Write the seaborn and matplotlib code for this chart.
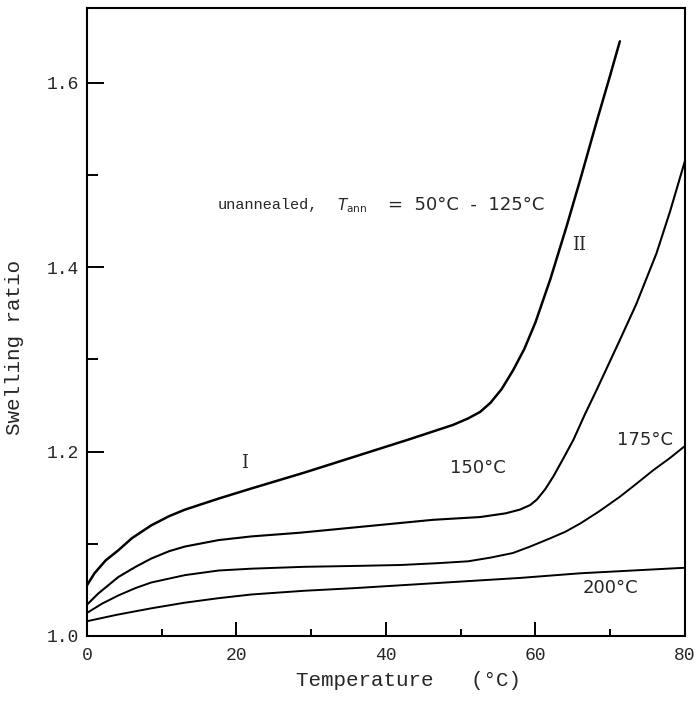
import matplotlib
matplotlib.use('Agg')
import matplotlib.pyplot as plt
import seaborn as sns
from matplotlib.ticker import MultipleLocator, FormatStrFormatter

sns.set_style('ticks', {'xtick.direction': 'in', 'ytick.direction': 'in'})
plt.rcParams['font.family'] = ['Liberation Mono', 'DejaVu Sans']
plt.rcParams['xtick.major.size'] = 10
plt.rcParams['xtick.minor.size'] = 5
plt.rcParams['ytick.major.size'] = 12
plt.rcParams['ytick.minor.size'] = 8

# curve I -> II (unannealed, T_ann = 50-125 C)
x_top = [0, 1, 2.5, 4.2, 6, 8.6, 11, 13.1, 17.6, 22, 29, 36, 43, 49, 51, 52.6,
         54, 55.5, 57, 58.5, 60, 62, 64.2, 66, 68.2, 70, 71.3]
y_top = [1.055, 1.068, 1.082, 1.093, 1.106, 1.120, 1.130, 1.137, 1.149, 1.160,
         1.177, 1.195, 1.213, 1.229, 1.236, 1.243, 1.253, 1.268, 1.288, 1.311,
         1.340, 1.387, 1.445, 1.495, 1.558, 1.608, 1.645]

# annealed at 150 C
x_150 = [0, 1.5, 4.2, 6.5, 8.6, 11, 13.1, 17.6, 22, 28.5, 37.4, 46.3, 52.6, 56,
         57.9, 59.3, 60.2, 61.3, 62.4, 63.7, 65.1, 66.6, 68.2, 71.3, 73.5, 76.2, 78, 80]
y_150 = [1.034, 1.046, 1.064, 1.075, 1.084, 1.092, 1.097, 1.104, 1.108, 1.112,
         1.119, 1.126, 1.129, 1.133, 1.137, 1.142, 1.148, 1.159, 1.173, 1.192,
         1.213, 1.240, 1.267, 1.321, 1.360, 1.415, 1.460, 1.515]

# annealed at 175 C
x_175 = [0, 2, 4.2, 6.5, 8.6, 13.1, 17.6, 22, 29, 36, 42, 47, 51, 54, 57, 59.3,
         62, 64, 66, 68.5, 71.3, 73.5, 75.8, 78, 80]
y_175 = [1.025, 1.035, 1.044, 1.052, 1.058, 1.066, 1.071, 1.073, 1.075, 1.076,
         1.077, 1.079, 1.081, 1.085, 1.090, 1.097, 1.106, 1.113, 1.122, 1.135,
         1.151, 1.165, 1.180, 1.193, 1.206]

# annealed at 200 C
x_200 = [0, 4, 8.6, 13, 17.6, 22, 29, 36, 42, 50, 58, 66, 73, 80]
y_200 = [1.016, 1.023, 1.030, 1.036, 1.041, 1.045, 1.049, 1.052, 1.055, 1.059,
         1.063, 1.068, 1.071, 1.074]

fig = plt.figure(figsize=(6.96, 7.2), dpi=100)
ax = fig.add_axes([0.125, 0.1167, 0.859, 0.872])

for xs, ys, lw in [(x_top, y_top, 1.8), (x_150, y_150, 1.5),
                   (x_175, y_175, 1.4), (x_200, y_200, 1.4)]:
    sns.lineplot(x=xs, y=ys, ax=ax, color='black', linewidth=lw, sort=False)

ax.set_xlim(0, 80)
ax.set_ylim(1.0, 1.681)
ax.xaxis.set_major_locator(MultipleLocator(20))
ax.xaxis.set_minor_locator(MultipleLocator(10))
ax.yaxis.set_major_locator(MultipleLocator(0.2))
ax.yaxis.set_minor_locator(MultipleLocator(0.1))
ax.xaxis.set_major_formatter(FormatStrFormatter('%d'))
ax.yaxis.set_major_formatter(FormatStrFormatter('%.1f'))

ax.tick_params(axis='x', which='major', labelsize=13, pad=8)
ax.tick_params(axis='y', which='major', labelsize=13, pad=6)
ax.tick_params(which='both', width=1.4, color='black')

for s in ax.spines.values():
    s.set_linewidth(1.5)
    s.set_color('black')

ax.set_xlabel('Temperature   (°C)', fontsize=15, va='top')
ax.xaxis.set_label_coords(0.537, -0.056)
ax.set_ylabel('Swelling ratio', fontsize=15)
ax.yaxis.set_label_coords(-0.105, 0.459)

ax.text(21.1, 1.188, 'I', fontsize=13, ha='center', va='center', family='DejaVu Serif')
ax.text(65.8, 1.424, 'II', fontsize=13, ha='center', va='center', family='DejaVu Serif')
ax.text(52.3, 1.182, '150°C', fontsize=13, ha='center', va='center', family='DejaVu Sans')
ax.text(74.6, 1.213, '175°C', fontsize=13, ha='center', va='center', family='DejaVu Sans')
ax.text(70.0, 1.052, '200°C', fontsize=13, ha='center', va='center', family='DejaVu Sans')
ax.text(17.5, 1.467, 'unannealed,', fontsize=11, ha='left', va='center')
ax.text(33.4, 1.467, r'$T_{\rm ann}$', fontsize=11, ha='left', va='center')
ax.text(40.3, 1.467, '=  50°C  -  125°C', fontsize=13, ha='left', va='center',
        family='DejaVu Sans')

fig.savefig('out.png', dpi=100)
